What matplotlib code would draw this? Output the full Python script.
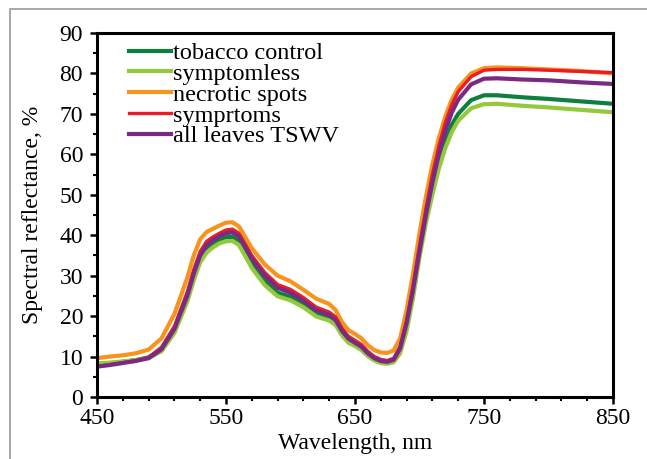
import matplotlib
import numpy as np

matplotlib.use('Agg')
import matplotlib.pyplot as plt
from matplotlib.patches import Rectangle

# длины волн, нм
wavelength = [450, 460, 470, 480, 490, 500, 510, 520, 525, 530, 535, 540, 545, 550, 555,
              560, 565, 570, 580, 590, 600, 610, 620, 630, 635, 640, 645, 650, 655, 660,
              665, 670, 675, 680, 685, 690, 695, 700, 705, 710, 715, 720, 725, 730, 740,
              750, 760, 780, 800, 825, 850]

# спектральное отражение, %
tobacco_control = [8.0, 8.3, 8.7, 9.1, 9.8, 11.8, 16.5, 24.5, 29.8, 34.3, 36.7, 37.9, 38.9, 39.5, 39.6,
                   38.6, 35.9, 33.0, 28.7, 25.8, 24.8, 23.0, 20.6, 19.6, 18.4, 15.8, 13.9, 13.0, 12.0, 10.4,
                   9.3, 8.7, 8.5, 9.0, 11.6, 17.5, 25.5, 36.0, 44.5, 52.0, 58.5, 63.5, 67.3, 70.0, 73.4,
                   74.6, 74.6, 74.1, 73.7, 73.1, 72.5]

symptomless = [8.3, 8.5, 8.8, 9.1, 9.6, 11.3, 15.8, 23.6, 28.8, 33.3, 35.7, 37.0, 38.0, 38.5, 38.6,
               37.6, 34.8, 31.9, 27.7, 24.9, 23.9, 22.2, 19.9, 18.9, 17.8, 15.2, 13.4, 12.6, 11.6, 10.1,
               9.0, 8.4, 8.2, 8.6, 10.8, 16.3, 24.5, 34.5, 43.0, 50.0, 56.5, 61.5, 65.5, 68.3, 71.4,
               72.4, 72.5, 72.0, 71.6, 71.0, 70.4]

necrotic_spots = [9.6, 10.0, 10.3, 10.8, 11.7, 14.5, 20.5, 29.5, 35.0, 39.0, 40.8, 41.6, 42.4, 43.1, 43.2,
                  42.2, 39.5, 36.8, 32.8, 30.0, 28.6, 26.5, 24.3, 23.0, 21.5, 18.5, 16.5, 15.6, 14.5, 12.8,
                  11.6, 11.0, 10.9, 11.5, 14.5, 21.5, 30.5, 40.5, 49.5, 57.5, 64.0, 69.3, 73.5, 76.5, 80.0,
                  81.3, 81.5, 81.3, 81.0, 80.6, 80.0]

symptoms = [7.6, 8.0, 8.5, 9.0, 9.8, 12.3, 17.5, 26.0, 31.5, 36.0, 38.5, 39.6, 40.5, 41.3, 41.5,
            40.5, 37.8, 35.0, 30.8, 27.8, 26.6, 24.6, 22.2, 21.0, 19.8, 17.0, 15.0, 14.0, 13.0, 11.3,
            10.0, 9.3, 9.0, 9.6, 12.5, 19.0, 27.5, 37.5, 46.5, 55.0, 62.0, 67.8, 72.2, 75.5, 79.2,
            80.8, 81.0, 81.0, 80.8, 80.5, 80.2]

all_leaves = [7.5, 7.9, 8.4, 8.9, 9.6, 11.8, 16.8, 25.0, 30.5, 35.0, 37.5, 38.8, 39.8, 40.5, 40.7,
              39.7, 37.0, 34.2, 30.0, 27.0, 25.8, 23.8, 21.4, 20.3, 19.0, 16.3, 14.4, 13.4, 12.4, 10.8,
              9.6, 8.9, 8.7, 9.2, 12.0, 18.2, 26.5, 36.0, 45.0, 53.0, 60.0, 65.8, 70.3, 73.5, 77.3,
              78.7, 78.8, 78.5, 78.3, 77.8, 77.4]

plt.rcParams['font.family'] = ['Liberation Serif', 'DejaVu Serif']
plt.rcParams['font.size'] = 17

fig = plt.figure(figsize=(6.47, 4.59), dpi=100)
ax = fig.add_axes([0.1499, 0.1351, 0.7975, 0.7930])

ax.plot(wavelength, tobacco_control, color='#0e7f3f', lw=3.0, label='tobacco control')
ax.plot(wavelength, symptomless, color='#94c83d', lw=3.0, label='symptomless')
ax.plot(wavelength, necrotic_spots, color='#f7941d', lw=3.0, label='necrotic spots')
ax.plot(wavelength, symptoms, color='#ed1c24', lw=2.4, label='symprtoms')
ax.plot(wavelength, all_leaves, color='#7b2a83', lw=3.0, label='all leaves TSWV')

ax.set_xlim(450, 850)
ax.set_ylim(0, 90)
ax.set_xticks(np.arange(450, 851, 100))
ax.set_xticks(np.arange(450, 851, 20), minor=True)
ax.set_yticks(np.arange(0, 91, 10))
ax.set_yticks(np.arange(0, 91, 5), minor=True)
ax.tick_params(which='major', direction='out', length=5, width=1.8, pad=3)
ax.tick_params(which='minor', direction='out', length=3, width=1.5)
ax.tick_params(axis='y', which='major', pad=5)
for s in ax.spines.values():
    s.set_linewidth(2.2)

ax.set_xlabel('Wavelength, nm', labelpad=3)
ax.set_ylabel('Spectral reflectance, %', labelpad=12)

ax.legend(loc='upper left', bbox_to_anchor=(0.063, 0.975), frameon=False,
          fontsize=17.5, handlelength=1.7, handletextpad=0.1, labelspacing=-0.05,
          borderpad=0, borderaxespad=0)

# серая рамка вокруг рисунка
fig.patches.append(Rectangle((10 / 647, -0.1), 1.2, 1.1 - 9 / 459,
                             transform=fig.transFigure, fill=False,
                             edgecolor='#9a9a9a', lw=1.2, clip_on=False))

fig.savefig('out.png', dpi=100)
